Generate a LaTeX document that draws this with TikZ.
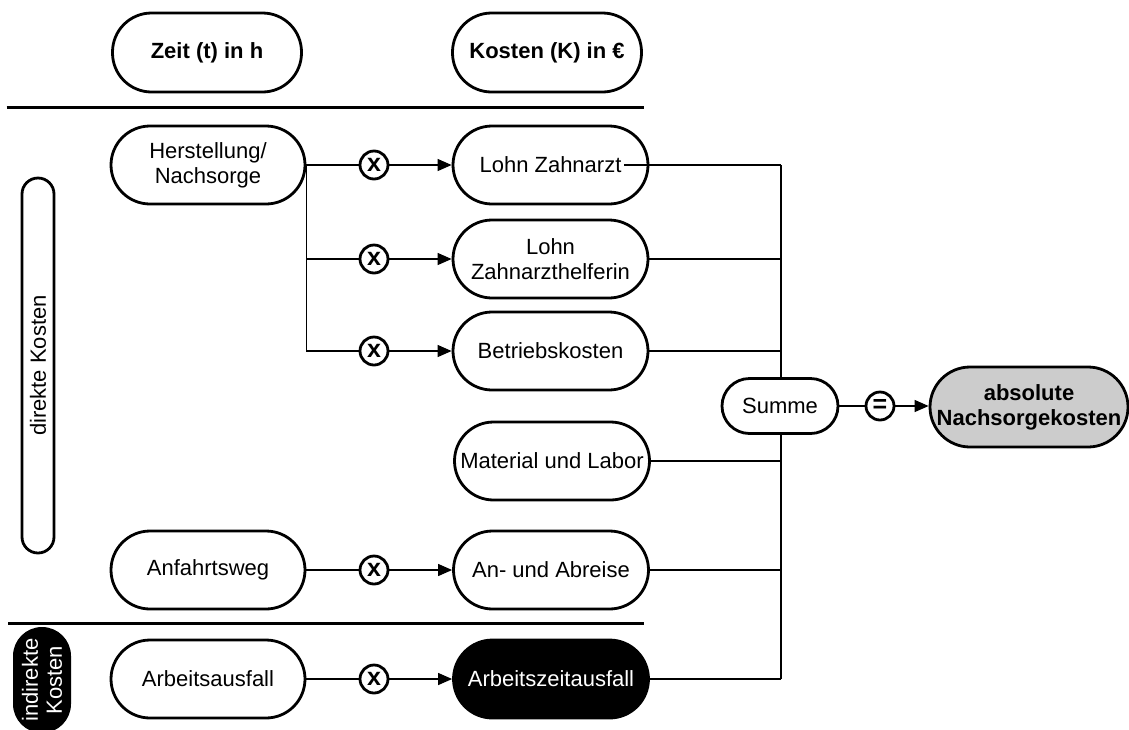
\documentclass[tikz,border=0pt]{standalone}
\usepackage{fontspec}
\setmainfont{Liberation Sans}
\usetikzlibrary{arrows.meta}
\begin{document}
\begin{tikzpicture}[x=1pt,y=-1pt,
  txt/.style={font=\fontsize{22}{25}\selectfont},
  pill/.style={txt, draw=black, fill=white, line width=2.8pt, rounded corners=39pt,
    minimum width=195pt, minimum height=78pt, inner sep=0pt, align=center},
  headbox/.style={pill, minimum width=189pt, minimum height=79pt, font=\bfseries\fontsize{22}{25}\selectfont},
  darkpill/.style={pill, fill=black, text=white},
  opnode/.style={circle, draw=black, fill=white, line width=2.8pt, minimum size=28pt,
    inner sep=0pt, font=\bfseries\fontsize{25}{25}\selectfont},
  conn/.style={line width=1.2pt},
  arr/.style={conn, -{Triangle[length=14pt,width=12pt]}},
  rule/.style={line width=3pt},
  sidebox/.style={txt, draw=black, line width=2.8pt, rotate=90, inner sep=0pt, align=center}
]
\useasboundingbox (0,0) rectangle (1129,729);

% column headers and separators
\node[headbox] (zeit) at (207,52.5) {Zeit (t) in h};
\node[headbox] (kosten) at (547,52.5) {Kosten (K) in €};
\coordinate (r1a) at (6.5,107);  \coordinate (r1b) at (644,107);
\coordinate (r2a) at (8,623);    \coordinate (r2b) at (644,623);
\draw[rule] (r1a) -- (r1b);
\draw[rule] (r2a) -- (r2b);

% side labels
\node[sidebox, rounded corners=16pt, minimum width=375pt, minimum height=32pt] (dk) at (38,365.5) {direkte Kosten};
\node[sidebox, draw=none, fill=black, text=white, rounded corners=29pt, minimum width=106pt,
  minimum height=58pt, font=\fontsize{22}{24}\selectfont] (ik) at (42,680) {indirekte\\Kosten};

% time inputs
\node[pill, minimum width=194pt] (hn) at (208,165) {Herstellung/\\Nachsorge};
\node[pill, minimum width=194pt] (an) at (208,570) {Anfahrtsweg};
\node[pill, minimum width=194pt] (aa) at (208,679) {Arbeitsausfall};

% cost items
\node[pill] (lz)  at (550.5,165) {Lohn Zahnarzt};
\node[pill] (lzh) at (550.5,259) {Lohn\\Zahnarzthelferin};
\node[pill] (bk)  at (550.5,351) {Betriebskosten};
\node[pill] (ml)  at (552,461) {Material und Labor};
\node[pill] (ar)  at (551,570) {An- und Abreise};
\node[darkpill] (az) at (551,679) {Arbeitszeitausfall};

% multiplication operators
\node[opnode] (x1) at (374,165) {x};
\node[opnode] (x2) at (374,259) {x};
\node[opnode] (x3) at (374,351) {x};
\node[opnode] (x4) at (374,570) {x};
\node[opnode] (x5) at (374,679) {x};

% time x rate -> cost
\draw[conn] (hn.east) -- (x1);
\draw[conn] (hn.east) -- (hn.east |- x3) -- (x3);
\draw[conn] (hn.east |- x2) -- (x2);
\draw[conn] (an) -- (x4);
\draw[conn] (aa) -- (x5);
\draw[arr] (x1) -- (lz);
\draw[arr] (x2) -- (lzh);
\draw[arr] (x3) -- (bk);
\draw[arr] (x4) -- (ar);
\draw[arr] (x5) -- (az);

% collecting bus into the sum
\coordinate (bus) at (781,0);
\draw[conn] (bus |- lz) -- (bus |- az);
\draw[conn] ([xshift=-25pt]lz.east) -- (bus |- lz);
\draw[conn] (lzh.east) -- (bus |- lzh);
\draw[conn] (bk.east) -- (bus |- bk);
\draw[conn] (ml.east) -- (bus |- ml);
\draw[conn] (ar.east) -- (bus |- ar);
\draw[conn] (az.east) -- (bus |- az);

\node[pill, minimum width=116pt, minimum height=55pt, rounded corners=27.5pt] (sum) at (780,406) {Summe};
\node[opnode] (eq) at (880,406) {=};
\node[pill, fill=black!20, minimum width=198pt, minimum height=80pt, rounded corners=40pt,
  font=\bfseries\fontsize{22}{25}\selectfont] (abs) at (1029,407) {absolute\\Nachsorgekosten};
\draw[conn] (sum) -- (eq);
\draw[arr] (eq) -- (abs.west |- eq);
\end{tikzpicture}
\end{document}
